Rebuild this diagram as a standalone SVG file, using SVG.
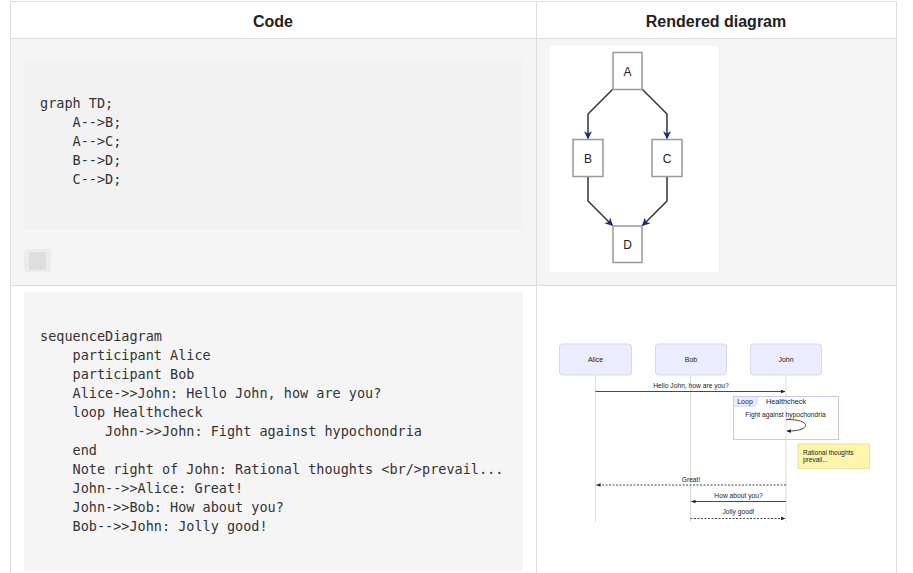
<svg xmlns="http://www.w3.org/2000/svg" width="913" height="573" viewBox="0 0 913 573">
<style>
.hdr{font-family:"Liberation Sans",Arial,sans-serif;font-size:16px;font-weight:bold;fill:#222;text-anchor:middle}
.code{font-family:"DejaVu Sans Mono","Liberation Mono",monospace;font-size:13.5px;fill:#333}
.grid{stroke:#ddd;stroke-width:1;fill:none}
.fnode rect{fill:#fff;stroke:#999;stroke-width:1.5}
.fnode text{font-family:"Liberation Sans",Arial,sans-serif;font-size:12px;fill:#222;text-anchor:middle}
.fedge{fill:none;stroke:#333;stroke-width:1.5}
.actor rect{fill:#ececff;stroke:#d6d6f5;stroke-width:1}
.actor text{font-family:"Liberation Sans",Arial,sans-serif;font-size:7px;fill:#222;text-anchor:middle}
.life{stroke:#ddd;stroke-width:1}
.msg{fill:none;stroke:#333;stroke-width:0.9}
.dot{stroke-dasharray:2,1.5}
.mt{font-family:"Liberation Sans",Arial,sans-serif;font-size:6.7px;fill:#222;text-anchor:middle}
.st{font-family:"Liberation Sans",Arial,sans-serif;font-size:6.5px;fill:#222}
</style>
<defs>
<marker id="fa" viewBox="0 0 10 10" refX="9" refY="5" markerWidth="5.5" markerHeight="5.5" orient="auto" markerUnits="strokeWidth">
<path d="M0,0 L10,5 L0,10 L3,5 z" fill="#1c2a78"/>
</marker>
<marker id="sa" viewBox="0 0 10 10" refX="9" refY="5" markerWidth="5" markerHeight="5" orient="auto" markerUnits="strokeWidth">
<path d="M0,1 L10,5 L0,9 z" fill="#222"/>
</marker>
</defs>

<!-- table backgrounds -->
<rect x="10" y="1" width="887" height="38" fill="#fff"/>
<rect x="10" y="39" width="887" height="246" fill="#f5f5f5"/>
<rect x="10" y="285" width="887" height="288" fill="#fff"/>

<!-- grid lines -->
<g id="grid">
<path class="grid" d="M10.5,1.5 H896.5 M10.5,1.5 V573 M896.5,1.5 V573 M536.5,1.5 V573 M10.5,38.5 H896.5 M10.5,285.5 H896.5"/>
</g>

<g id="headers">
<text class="hdr" x="273" y="27">Code</text>
<text class="hdr" x="716" y="27">Rendered diagram</text>
</g>

<!-- code block 1 -->
<g id="code1">
<rect x="24" y="60" width="499" height="170" fill="#f2f2f2"/>
<text class="code" x="40" y="108">graph TD;</text>
<text class="code" x="40" y="127" xml:space="preserve">    A--&gt;B;</text>
<text class="code" x="40" y="146" xml:space="preserve">    A--&gt;C;</text>
<text class="code" x="40" y="165" xml:space="preserve">    B--&gt;D;</text>
<text class="code" x="40" y="184" xml:space="preserve">    C--&gt;D;</text>
<rect x="24" y="249" width="27" height="23" rx="3" fill="#ececec"/>
<rect x="29" y="252" width="17" height="18" rx="2" fill="#dedede"/>
</g>

<!-- code block 2 -->
<g id="code2">
<rect x="24" y="292" width="499" height="279" rx="2" fill="#f5f5f5"/>
<text class="code" x="40" y="341">sequenceDiagram</text>
<text class="code" x="40" y="360" xml:space="preserve">    participant Alice</text>
<text class="code" x="40" y="379" xml:space="preserve">    participant Bob</text>
<text class="code" x="40" y="398" xml:space="preserve">    Alice-&gt;&gt;John: Hello John, how are you?</text>
<text class="code" x="40" y="417" xml:space="preserve">    loop Healthcheck</text>
<text class="code" x="40" y="436" xml:space="preserve">        John-&gt;&gt;John: Fight against hypochondria</text>
<text class="code" x="40" y="455" xml:space="preserve">    end</text>
<text class="code" x="40" y="474" xml:space="preserve">    Note right of John: Rational thoughts &lt;br/&gt;prevail...</text>
<text class="code" x="40" y="493" xml:space="preserve">    John--&gt;&gt;Alice: Great!</text>
<text class="code" x="40" y="512" xml:space="preserve">    John-&gt;&gt;Bob: How about you?</text>
<text class="code" x="40" y="531" xml:space="preserve">    Bob--&gt;&gt;John: Jolly good!</text>
</g>

<!-- flowchart -->
<rect x="550" y="46" width="168" height="226" fill="#fff"/>
<g id="flow-edges">
<path class="fedge" d="M613,89 L588,114 L588,138.5" marker-end="url(#fa)"/>
<path class="fedge" d="M642,89 L667,114 L667,138.5" marker-end="url(#fa)"/>
<path class="fedge" d="M588,176 L588,201 L612.5,225.5" marker-end="url(#fa)"/>
<path class="fedge" d="M667,176 L667,201 L642.5,225.5" marker-end="url(#fa)"/>
</g>
<g id="nodeA" class="fnode"><rect x="613" y="52.5" width="29" height="37"/><text x="627.5" y="75.5">A</text></g>
<g id="nodeB" class="fnode"><rect x="573" y="139.5" width="30" height="37"/><text x="588" y="162.5">B</text></g>
<g id="nodeC" class="fnode"><rect x="652" y="139.5" width="30" height="37"/><text x="667" y="162.5">C</text></g>
<g id="nodeD" class="fnode"><rect x="613" y="226" width="29" height="36.5"/><text x="627.5" y="249">D</text></g>

<!-- sequence diagram -->
<g id="lifelines">
<line class="life" x1="595.5" y1="375" x2="595.5" y2="522"/>
<line class="life" x1="690.5" y1="375" x2="690.5" y2="522"/>
<line class="life" x1="786" y1="375" x2="786" y2="522"/>
</g>
<g id="actor-alice" class="actor"><rect x="559.5" y="344" width="72" height="31" rx="3"/><text x="595.5" y="362">Alice</text></g>
<g id="actor-bob" class="actor"><rect x="655.5" y="344" width="71" height="31" rx="3"/><text x="691" y="362">Bob</text></g>
<g id="actor-john" class="actor"><rect x="750.5" y="344" width="71" height="31" rx="3"/><text x="786" y="362">John</text></g>

<g id="loop">
<rect x="733.5" y="396.5" width="105" height="43" fill="none" stroke="#c8c8f0" stroke-width="1"/>
<path d="M733.5,396.5 H757 V403 L754,406.3 H733.5 Z" fill="#ececff" stroke="#c8c8f0" stroke-width="0.8"/>
<text class="mt" x="745" y="403.5" style="font-size:7px">Loop</text>
<text class="mt" x="786" y="403.5" style="font-size:7.3px">Healthcheck</text>
</g>

<g id="note">
<rect x="798" y="444" width="71.5" height="24.5" fill="#fff5ad" stroke="#e6dc8a" stroke-width="0.8"/>
<text class="st" x="803" y="455">Rational thoughts</text>
<text class="st" x="803" y="461.5">prevail...</text>
</g>

<g id="messages">
<text class="mt" x="691" y="387.5">Hello John, how are you?</text>
<line class="msg" x1="595.5" y1="391.5" x2="785" y2="391.5" marker-end="url(#sa)"/>
<text class="mt" x="785.5" y="416.5">Fight against hypochondria</text>
<path class="msg" d="M786,419.5 C812,419 812,431.5 787,431" marker-end="url(#sa)"/>
<text class="mt" x="691" y="481.5">Great!</text>
<line class="msg dot" x1="786" y1="485" x2="596.5" y2="485" marker-end="url(#sa)"/>
<text class="mt" x="738.5" y="497.5">How about you?</text>
<line class="msg" x1="786" y1="501.5" x2="691.5" y2="501.5" marker-end="url(#sa)"/>
<text class="mt" x="738.5" y="514">Jolly good!</text>
<line class="msg dot" x1="690.5" y1="518.5" x2="785" y2="518.5" marker-end="url(#sa)"/>
</g>
</svg>
